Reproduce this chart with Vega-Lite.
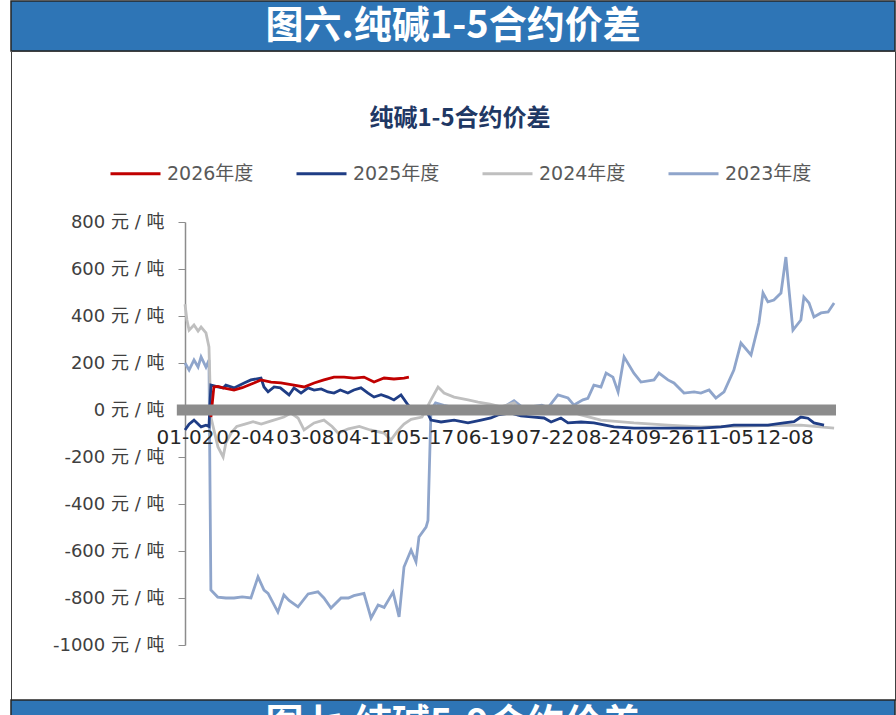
{
  "$schema": "https://vega.github.io/schema/vega-lite/v6.json",
  "padding": {"left": 10, "top": 0, "right": 0, "bottom": 0},
  "autosize": {"type": "pad"},
  "background": "white",
  "spacing": 0,
  "bounds": "flush",
  "config": {"view": {"stroke": null}},
  "vconcat": [
    {
      "width": 884,
      "height": 50,
      "view": {"fill": "#2E75B6", "stroke": "#262626", "strokeWidth": 1.5},
      "data": {"values": [{"h": "图六.纯碱1-5合约价差"}]},
      "mark": {"type": "text", "font": "Noto Sans CJK SC", "fontSize": 38, "fontWeight": "bold", "color": "#FFFFFF", "baseline": "middle", "align": "center", "dy": 1},
      "encoding": {"text": {"field": "h"}}
    },
    {
      "width": 884,
      "height": 649,
      "view": {"fill": "#FFFFFF", "stroke": "#404040", "strokeWidth": 1},
      "title": {"text": "纯碱1-5合约价差", "font": "Noto Sans CJK SC", "fontSize": 24, "fontWeight": "bold", "color": "#1F3864", "anchor": "middle", "frame": "group", "offset": -80, "dx": 7},
      "layer": [
        {
          "data": {"values": [
            {"s":"2023年度","t":0,"v":200},{"s":"2023年度","t":1.5,"v":170},{"s":"2023年度","t":3.3,"v":213},{"s":"2023年度","t":4.8,"v":183},{"s":"2023年度","t":5.9,"v":226},{"s":"2023年度","t":7.7,"v":183},{"s":"2023年度","t":8.8,"v":213},{"s":"2023年度","t":9.5,"v":-766},{"s":"2023年度","t":12,"v":-796},{"s":"2023年度","t":15,"v":-800},{"s":"2023年度","t":18,"v":-800},{"s":"2023年度","t":21,"v":-795},{"s":"2023年度","t":24.2,"v":-800},{"s":"2023年度","t":26.8,"v":-710},{"s":"2023年度","t":29,"v":-766},{"s":"2023年度","t":30.5,"v":-780},{"s":"2023年度","t":34.1,"v":-860},{"s":"2023年度","t":36.3,"v":-787},{"s":"2023年度","t":38.2,"v":-810},{"s":"2023年度","t":41.5,"v":-838},{"s":"2023年度","t":45.2,"v":-783},{"s":"2023年度","t":48.8,"v":-774},{"s":"2023年度","t":51,"v":-800},{"s":"2023年度","t":53.6,"v":-843},{"s":"2023年度","t":57.3,"v":-800},{"s":"2023年度","t":60,"v":-800},{"s":"2023年度","t":62,"v":-790},{"s":"2023年度","t":65.7,"v":-780},{"s":"2023年度","t":68.3,"v":-885},{"s":"2023年度","t":70.9,"v":-830},{"s":"2023年度","t":73.1,"v":-840},{"s":"2023年度","t":76.4,"v":-775},{"s":"2023年度","t":78.6,"v":-880},{"s":"2023年度","t":80.4,"v":-668},{"s":"2023年度","t":83,"v":-596},{"s":"2023年度","t":84.8,"v":-646},{"s":"2023年度","t":85.9,"v":-540},{"s":"2023年度","t":88.5,"v":-498},{"s":"2023年度","t":89.2,"v":-470},{"s":"2023年度","t":90.3,"v":0},{"s":"2023年度","t":92,"v":30},{"s":"2023年度","t":95,"v":20},{"s":"2023年度","t":99,"v":10},{"s":"2023年度","t":104,"v":-10},{"s":"2023年度","t":108,"v":0},{"s":"2023年度","t":112,"v":-15},{"s":"2023年度","t":116,"v":5},{"s":"2023年度","t":120.8,"v":40},{"s":"2023年度","t":124,"v":10},{"s":"2023年度","t":128,"v":15},{"s":"2023年度","t":131,"v":20},{"s":"2023年度","t":133.3,"v":10},{"s":"2023年度","t":136.9,"v":64},{"s":"2023年度","t":140.6,"v":51},{"s":"2023年度","t":142.8,"v":21},{"s":"2023年度","t":146.1,"v":43},{"s":"2023年度","t":147.9,"v":50},{"s":"2023年度","t":150.1,"v":106},{"s":"2023年度","t":152.7,"v":98},{"s":"2023年度","t":154.6,"v":157},{"s":"2023年度","t":157.1,"v":140},{"s":"2023年度","t":159,"v":77},{"s":"2023年度","t":161.2,"v":226},{"s":"2023年度","t":164.8,"v":157},{"s":"2023年度","t":167.4,"v":119},{"s":"2023年度","t":172.2,"v":128},{"s":"2023年度","t":174,"v":157},{"s":"2023年度","t":177.3,"v":128},{"s":"2023年度","t":179.5,"v":115},{"s":"2023年度","t":183.2,"v":72},{"s":"2023年度","t":186.9,"v":77},{"s":"2023年度","t":189.4,"v":72},{"s":"2023年度","t":192.4,"v":85},{"s":"2023年度","t":194.9,"v":51},{"s":"2023年度","t":197.9,"v":77},{"s":"2023年度","t":201.5,"v":170},{"s":"2023年度","t":204.1,"v":285},{"s":"2023年度","t":207.8,"v":234},{"s":"2023年度","t":210.7,"v":370},{"s":"2023年度","t":212.2,"v":498},{"s":"2023年度","t":214,"v":460},{"s":"2023年度","t":216.2,"v":468},{"s":"2023年度","t":218.8,"v":498},{"s":"2023年度","t":220.6,"v":651},{"s":"2023年度","t":221.4,"v":553},{"s":"2023年度","t":223.2,"v":340},{"s":"2023年度","t":226.1,"v":383},{"s":"2023年度","t":227.2,"v":481},{"s":"2023年度","t":229.1,"v":455},{"s":"2023年度","t":230.9,"v":396},{"s":"2023年度","t":233.5,"v":413},{"s":"2023年度","t":236.1,"v":417},{"s":"2023年度","t":238.3,"v":455},
            {"s":"2024年度","t":0,"v":450},{"s":"2024年度","t":0.7,"v":383},{"s":"2024年度","t":1.5,"v":340},{"s":"2024年度","t":3.3,"v":362},{"s":"2024年度","t":4.8,"v":336},{"s":"2024年度","t":5.9,"v":353},{"s":"2024年度","t":7.7,"v":328},{"s":"2024年度","t":8.8,"v":268},{"s":"2024年度","t":9.5,"v":-30},{"s":"2024年度","t":12.1,"v":-157},{"s":"2024年度","t":14,"v":-200},{"s":"2024年度","t":15,"v":-140},{"s":"2024年度","t":16.9,"v":-98},{"s":"2024年度","t":19,"v":-70},{"s":"2024年度","t":22,"v":-60},{"s":"2024年度","t":25,"v":-50},{"s":"2024年度","t":28,"v":-60},{"s":"2024年度","t":32,"v":-45},{"s":"2024年度","t":36.3,"v":-30},{"s":"2024年度","t":38.9,"v":-13},{"s":"2024年度","t":41.5,"v":-34},{"s":"2024年度","t":43.7,"v":-85},{"s":"2024年度","t":47.4,"v":-55},{"s":"2024年度","t":51,"v":-43},{"s":"2024年度","t":54,"v":-70},{"s":"2024年度","t":56.2,"v":-98},{"s":"2024年度","t":60,"v":-80},{"s":"2024年度","t":64,"v":-70},{"s":"2024年度","t":68,"v":-85},{"s":"2024年度","t":73.1,"v":-98},{"s":"2024年度","t":75.6,"v":-128},{"s":"2024年度","t":78,"v":-90},{"s":"2024年度","t":80.4,"v":-60},{"s":"2024年度","t":83,"v":-40},{"s":"2024年度","t":87,"v":-30},{"s":"2024年度","t":90.3,"v":43},{"s":"2024年度","t":92.9,"v":98},{"s":"2024年度","t":95.1,"v":72},{"s":"2024年度","t":98.8,"v":55},{"s":"2024年度","t":103.9,"v":43},{"s":"2024年度","t":107.6,"v":34},{"s":"2024年度","t":112,"v":25},{"s":"2024年度","t":116,"v":13},{"s":"2024年度","t":120.8,"v":30},{"s":"2024年度","t":123.3,"v":0},{"s":"2024年度","t":128.1,"v":-13},{"s":"2024年度","t":134.4,"v":13},{"s":"2024年度","t":140.6,"v":0},{"s":"2024年度","t":145,"v":-20},{"s":"2024年度","t":152.7,"v":-43},{"s":"2024年度","t":164.8,"v":-55},{"s":"2024年度","t":177.3,"v":-64},{"s":"2024年度","t":189.4,"v":-72},{"s":"2024年度","t":201.5,"v":-70},{"s":"2024年度","t":214,"v":-66},{"s":"2024年度","t":226.1,"v":-64},{"s":"2024年度","t":238.3,"v":-77},
            {"s":"2025年度","t":0,"v":-85},{"s":"2025年度","t":1.5,"v":-60},{"s":"2025年度","t":3.3,"v":-43},{"s":"2025年度","t":4.8,"v":-60},{"s":"2025年度","t":5.9,"v":-72},{"s":"2025年度","t":7.7,"v":-65},{"s":"2025年度","t":8.8,"v":-70},{"s":"2025年度","t":9.5,"v":106},{"s":"2025年度","t":12.1,"v":98},{"s":"2025年度","t":14,"v":94},{"s":"2025年度","t":15,"v":106},{"s":"2025年度","t":18,"v":94},{"s":"2025年度","t":21.7,"v":115},{"s":"2025年度","t":24.2,"v":128},{"s":"2025年度","t":27.9,"v":136},{"s":"2025年度","t":29,"v":98},{"s":"2025年度","t":30.5,"v":77},{"s":"2025年度","t":32.7,"v":98},{"s":"2025年度","t":35,"v":94},{"s":"2025年度","t":38.2,"v":64},{"s":"2025年度","t":40,"v":94},{"s":"2025年度","t":42.6,"v":72},{"s":"2025年度","t":45.2,"v":94},{"s":"2025年度","t":47.4,"v":85},{"s":"2025年度","t":50,"v":90},{"s":"2025年度","t":52.5,"v":77},{"s":"2025年度","t":54.7,"v":72},{"s":"2025年度","t":57,"v":85},{"s":"2025年度","t":59.8,"v":72},{"s":"2025年度","t":62,"v":85},{"s":"2025年度","t":64.6,"v":94},{"s":"2025年度","t":67.2,"v":72},{"s":"2025年度","t":69.4,"v":55},{"s":"2025年度","t":72,"v":65},{"s":"2025年度","t":74.5,"v":55},{"s":"2025年度","t":76.7,"v":43},{"s":"2025年度","t":79.3,"v":64},{"s":"2025年度","t":81.9,"v":21},{"s":"2025年度","t":84.1,"v":0},{"s":"2025年度","t":86.6,"v":13},{"s":"2025年度","t":88.5,"v":0},{"s":"2025年度","t":90.3,"v":-43},{"s":"2025年度","t":94,"v":-51},{"s":"2025年度","t":98.8,"v":-43},{"s":"2025年度","t":103.9,"v":-55},{"s":"2025年度","t":108.7,"v":-43},{"s":"2025年度","t":112.3,"v":-34},{"s":"2025年度","t":114.9,"v":-21},{"s":"2025年度","t":119.7,"v":-13},{"s":"2025年度","t":123.3,"v":-25},{"s":"2025年度","t":128.1,"v":-30},{"s":"2025年度","t":131.8,"v":-34},{"s":"2025年度","t":134.4,"v":-51},{"s":"2025年度","t":138,"v":-34},{"s":"2025年度","t":140.6,"v":-55},{"s":"2025年度","t":145.4,"v":-51},{"s":"2025年度","t":150.1,"v":-55},{"s":"2025年度","t":157.5,"v":-72},{"s":"2025年度","t":164.8,"v":-77},{"s":"2025年度","t":177.3,"v":-77},{"s":"2025年度","t":189.4,"v":-77},{"s":"2025年度","t":196.8,"v":-72},{"s":"2025年度","t":201.5,"v":-64},{"s":"2025年度","t":214,"v":-64},{"s":"2025年度","t":219.9,"v":-55},{"s":"2025年度","t":223.6,"v":-50},{"s":"2025年度","t":226.1,"v":-30},{"s":"2025年度","t":228.7,"v":-35},{"s":"2025年度","t":230.9,"v":-55},{"s":"2025年度","t":234.6,"v":-64},
            {"s":"2026年度","t":9.5,"v":-30},{"s":"2026年度","t":10.6,"v":98},{"s":"2026年度","t":12.1,"v":100},{"s":"2026年度","t":14,"v":94},{"s":"2026年度","t":18,"v":85},{"s":"2026年度","t":21,"v":95},{"s":"2026年度","t":25.3,"v":115},{"s":"2026年度","t":27.9,"v":128},{"s":"2026年度","t":31.6,"v":119},{"s":"2026年度","t":35.2,"v":115},{"s":"2026年度","t":40,"v":106},{"s":"2026年度","t":43.7,"v":98},{"s":"2026年度","t":47.4,"v":115},{"s":"2026年度","t":51,"v":128},{"s":"2026年度","t":54.7,"v":140},{"s":"2026年度","t":58.4,"v":140},{"s":"2026年度","t":62,"v":136},{"s":"2026年度","t":65.7,"v":140},{"s":"2026年度","t":69.4,"v":119},{"s":"2026年度","t":73.1,"v":136},{"s":"2026年度","t":76.7,"v":132},{"s":"2026年度","t":80.4,"v":136},{"s":"2026年度","t":82.2,"v":140}
          ]},
          "mark": {"type": "line", "strokeWidth": 2.8},
          "encoding": {
            "x": {"field": "t", "type": "quantitative",
              "scale": {"domain": [0, 239], "range": [174, 825], "nice": false, "zero": false},
              "axis": {"orient": "bottom", "values": [0,22,44,66,88,110,132,154,176,198,220],
                "labelExpr": "['01-02','02-04','03-08','04-11','05-17','06-19','07-22','08-24','09-26','11-05','12-08'][round(datum.value/22)]",
                "offset": -275, "domain": false, "ticks": false, "grid": false, "title": null,
                "labelPadding": 2, "labelFontSize": 20, "labelFont": "DejaVu Sans", "labelColor": "#262626",
                "labelOverlap": false, "labelFlush": false, "zindex": 1}},
            "y": {"field": "v", "type": "quantitative",
              "scale": {"domain": [-1000, 800], "range": [594, 171], "nice": false},
              "axis": {"values": [-1000,-800,-600,-400,-200,0,200,400,600,800],
                "labelExpr": "datum.value + ' 元 / 吨'", "offset": -174, "title": null, "grid": false,
                "domainColor": "#8C8C8C", "domainWidth": 1.5, "tickColor": "#8C8C8C", "tickSize": 7,
                "labelPadding": 14, "labelFontSize": 18, "labelFont": "DejaVu Sans, Noto Sans CJK SC", "labelColor": "#404040"}},
            "color": {"field": "s", "type": "nominal",
              "scale": {"domain": ["2026年度","2025年度","2024年度","2023年度"], "range": ["#C00000","#1F3D85","#BFBFBF","#8FA5CB"]},
              "legend": {"orient": "none", "legendX": 98, "legendY": 146, "direction": "horizontal", "columns": 4,
                "gridAlign": "all",
                "title": null, "symbolType": "stroke", "symbolSize": 2500, "symbolStrokeWidth": 3,
                "labelFontSize": 19, "labelFont": "DejaVu Sans, Noto Sans CJK SC", "labelColor": "#595959",
                "labelOffset": 5, "columnPadding": 36, "padding": 0}}
          }
        },
        {
          "data": {"values": [{}]},
          "mark": {"type": "rule", "color": "#8C8C8C", "strokeWidth": 11},
          "encoding": {"x": {"datum": -3}, "x2": {"datum": 239}, "y": {"datum": 0}}
        }
      ]
    },
    {
      "width": 884,
      "height": 16,
      "view": {"fill": "#2E75B6", "stroke": "#262626", "strokeWidth": 1.5},
      "data": {"values": [{"h": "图七.纯碱5-9合约价差"}]},
      "mark": {"type": "text", "font": "Noto Sans CJK SC", "fontSize": 38, "fontWeight": "bold", "color": "#FFFFFF", "baseline": "top", "align": "center", "dy": -2, "clip": true},
      "encoding": {"text": {"field": "h"}}
    }
  ]
}
